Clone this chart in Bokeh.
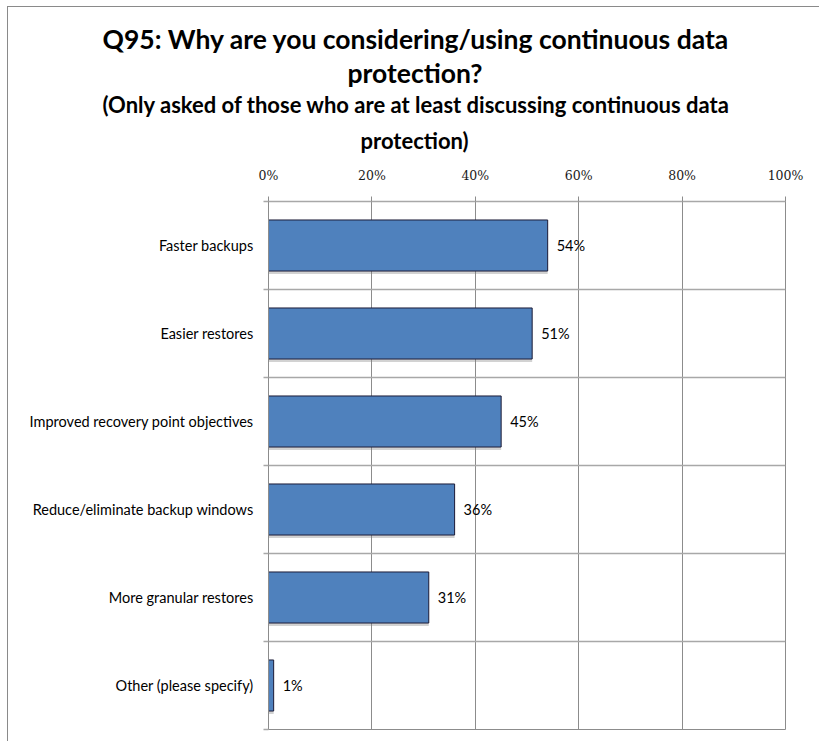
from bokeh.plotting import figure
from bokeh.models import Range1d, FixedTicker, ColumnDataSource, Title
from bokeh.core.properties import value
from bokeh.embed import file_html
from bokeh.resources import INLINE

# ---- data ----
categories = [
    "Faster backups",
    "Easier restores",
    "Improved recovery point objectives",
    "Reduce/eliminate backup windows",
    "More granular restores",
    "Other (please specify)",
]
values = [54, 51, 45, 36, 31, 1]
value_labels = ["54%", "51%", "45%", "36%", "31%", "1%"]
x_ticks = [0, 20, 40, 60, 80, 100]
x_tick_labels = ["0%", "20%", "40%", "60%", "80%", "100%"]
title_lines = ["Q95: Why are you considering/using continuous data", "protection?"]
subtitle_lines = ["(Only asked of those who are at least discussing continuous data", "protection)"]

# ---- layout constants (figure px; figure starts at page x=8, y=7) ----
W, H = 812, 735
FL, FR, FT, FB = 260, 777, 194, 722
n = len(categories)
ypos = list(range(1, n + 1))

p = figure(width=W, height=H, output_backend="svg", toolbar_location=None,
           x_range=Range1d(0, 100), y_range=Range1d(n + 0.5, 0.5),
           x_axis_location="above", min_border_left=FL, min_border_right=W - FR,
           min_border_top=FT, min_border_bottom=H - FB, tools="")
p.title.visible = False
p.background_fill_color = "white"
p.border_fill_color = "white"
p.outline_line_color = "#8c8c8c"
p.outline_line_width = 1
p.styles = {"margin-left": "7px", "margin-top": "6px",
            "border-left": "1px solid #8a8a8a", "border-top": "1px solid #8a8a8a"}

# grids
p.xgrid.ticker = FixedTicker(ticks=x_ticks[1:-1])
p.xgrid.grid_line_color = "#8c8c8c"
p.xgrid.grid_line_width = 1
p.ygrid.ticker = FixedTicker(ticks=[i + 0.5 for i in ypos[:-1]])
p.ygrid.grid_line_color = "#a8a8a8"
p.ygrid.grid_line_width = 1.5

# x axis (above)
xa = p.xaxis[0]
xa.ticker = FixedTicker(ticks=x_ticks)
xa.major_label_overrides = {t: l for t, l in zip(x_ticks, x_tick_labels)}
xa.axis_line_color = "#a8a8a8"
xa.axis_line_width = 1.5
xa.major_tick_line_color = "#8c8c8c"
xa.major_tick_out = 5
xa.major_tick_in = 0
xa.minor_tick_line_color = None
xa.major_label_standoff = 14
xa.major_label_text_font = "DejaVu Serif"
xa.major_label_text_font_size = "12.5px"
xa.major_label_text_color = "#1a1a1a"

# y axis (left)
ya = p.yaxis[0]
ya.ticker = FixedTicker(ticks=ypos, minor_ticks=[i - 0.5 for i in ypos] + [n + 0.5])
ya.major_label_overrides = {y: c for y, c in zip(ypos, categories)}
ya.axis_line_color = "#8c8c8c"
ya.major_tick_line_color = None
ya.major_tick_out = 0
ya.major_tick_in = 0
ya.minor_tick_line_color = "#a8a8a8"
ya.minor_tick_line_width = 1.5
ya.minor_tick_out = 5
ya.minor_tick_in = 0
ya.major_label_standoff = 10
ya.major_label_text_font = "Lato"
ya.major_label_text_font_size = "14.5px"
ya.major_label_text_color = "black"

src = ColumnDataSource(dict(y=ypos, v=values, lab=value_labels,
                            ys=[y + 0.035 for y in ypos]))

# shadow
p.hbar(y="ys", left=0, right="v", height=0.58, source=src,
       fill_color="#7f7f7f", fill_alpha=0.35, line_color=None)
# bars
p.hbar(y="y", left=0, right="v", height=0.58, source=src,
       fill_color="#4F81BD", line_color="#1c1c38", line_width=1)

p.text(x="v", y="y", text="lab", source=src, x_offset=9,
       text_baseline="middle", text_align="left",
       text_font=value("Lato"), text_font_size="14.5px", text_color="black")

# titles: added innermost first; left-aligned with offsets from frame left
specs = [
    (subtitle_lines[1], "22px", 18, 92, "top"),
    (subtitle_lines[0], "22px", 0, -166, "bottom"),
    (title_lines[1], "26.5px", 0, 79, "bottom"),
    (title_lines[0], "26.5px", 0, -166, "bottom"),
]
for txt, size, so, off, va in specs:
    p.add_layout(Title(text=txt, align="left", offset=off, standoff=so,
                       vertical_align=va,
                       text_font="Lato", text_font_style="bold",
                       text_font_size=size, text_color="black"), "above")

open("out.html", "w").write(file_html(p, INLINE))
